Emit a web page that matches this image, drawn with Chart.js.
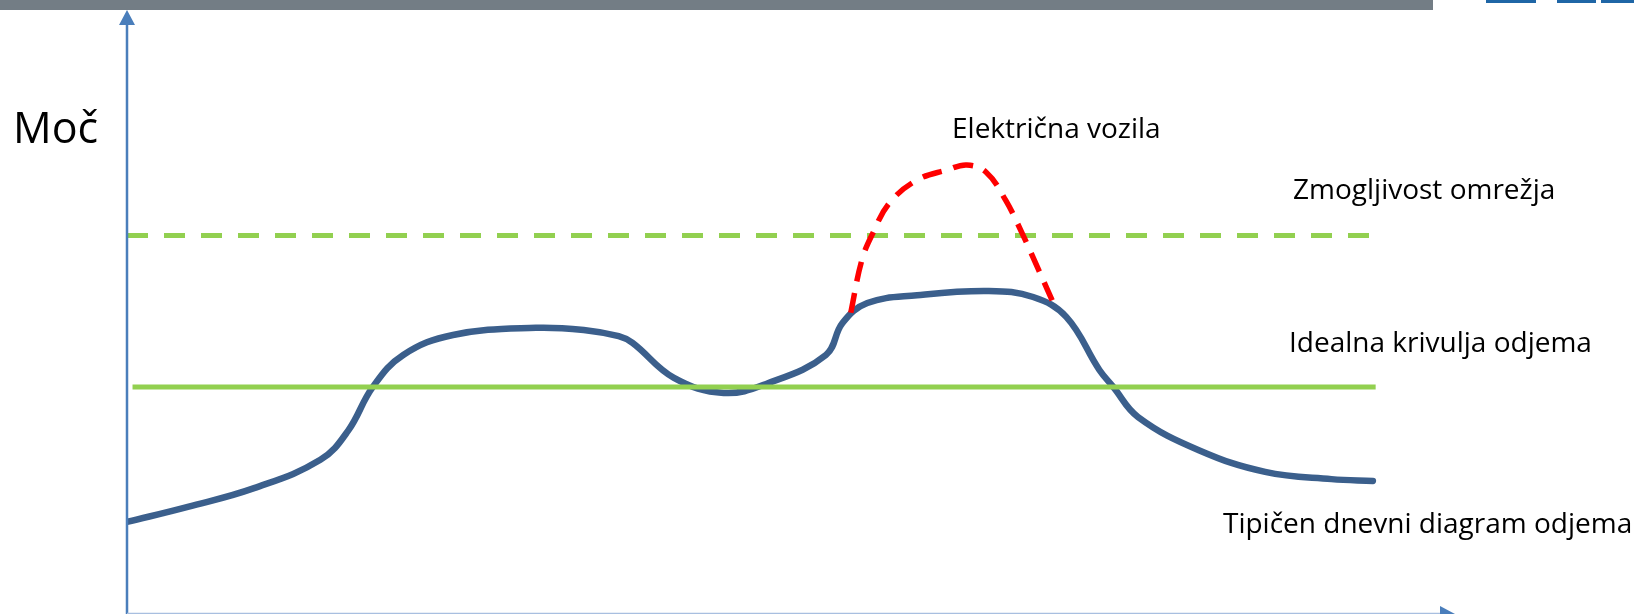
<!DOCTYPE html>
<html lang="sl">
<head>
<meta charset="utf-8">
<title>Dnevni diagram odjema</title>
<script src="https://cdn.jsdelivr.net/npm/chart.js@4/dist/chart.umd.min.js"></script>
<style>
  html, body { margin: 0; padding: 0; background: #fff; }
  #wrap { position: relative; width: 1634px; height: 614px; overflow: hidden; }
  #chOdjem { position: absolute; left: 0; top: 0; }
  .strip { position: absolute; top: 0; }
</style>
</head>
<body>
<div id="wrap">
  <canvas id="chOdjem" width="1634" height="614"></canvas>
  <!-- zgornji trak diapozitiva -->
  <div class="strip" style="left:0;width:1433px;height:10px;background:#737d85;"></div>
  <div class="strip" style="left:1486px;width:50px;height:3px;background:#1f66a6;"></div>
  <div class="strip" style="left:1557px;width:39px;height:3px;background:#1f66a6;"></div>
  <div class="strip" style="left:1601px;width:33px;height:3px;background:#1f66a6;"></div>
</div>
<script>
// ============ podatki (ura dneva, moč v relativnih enotah) ============
// tipičen dnevni diagram odjema
const odjemX = [0, 1.1, 2.3, 3.5, 4.0, 4.45, 5.0, 5.9, 7.4, 8.3, 8.9, 9.15, 9.9, 10.8, 11.6, 12.65, 12.95, 13.4, 14.3, 15.6, 16.4, 17.0, 17.6, 17.85, 18.3, 19.4, 20.6, 21.8, 22.55];
const odjemY = [15.1, 17.6, 20.7, 25.4, 30.2, 37.5, 42.8, 46.1, 47.3, 46.9, 45.9, 44.8, 39.0, 36.5, 38.1, 42.8, 48.1, 51.4, 52.7, 53.4, 52.4, 49.1, 40.3, 37.5, 32.5, 27.0, 23.4, 22.2, 21.9];

// dodatna obremenitev zaradi električnih vozil
const evX = [13.1, 13.3, 13.5, 13.8, 14.3, 14.85, 15.2, 15.55, 15.9, 16.2, 16.5, 16.8];
const evY = [49.8, 58.5, 63.0, 68.0, 71.8, 73.5, 74.3, 73.1, 68.5, 63.0, 56.9, 50.7];

// zmogljivost omrežja in idealna krivulja
const zmogljivostX = [0, 22.55];
const zmogljivostY = [62.6, 62.6];
const idealnaX = [0.1, 22.6];
const idealnaY = [37.5, 37.5];

const pts = (xs, ys) => xs.map((x, i) => ({ x, y: ys[i] }));

const FONT = '"Open Sans", Calibri, sans-serif';
const AXIS = '#4a7ebb';

// oznake ob krivuljah
const labels = [
  { text: 'Moč', x: 13, y: 143, size: 43 },
  { text: 'Električna vozila', x: 952, y: 138, size: 28 },
  { text: 'Zmogljivost omrežja', x: 1293, y: 199, size: 28 },
  { text: 'Idealna krivulja odjema', x: 1289, y: 352, size: 28 },
  { text: 'Tipičen dnevni diagram odjema', x: 1223, y: 533, size: 28 },
];

// osi s puščicami + napisi
const decor = {
  id: 'decor',
  afterDraw(chart) {
    const { ctx, chartArea: a } = chart;
    ctx.save();
    // y os
    ctx.strokeStyle = AXIS;
    ctx.lineWidth = 2.5;
    ctx.beginPath();
    ctx.moveTo(a.left, a.bottom + 2);
    ctx.lineTo(a.left, a.top + 12);
    ctx.stroke();
    ctx.fillStyle = AXIS;
    ctx.beginPath();
    ctx.moveTo(a.left, a.top);
    ctx.lineTo(a.left - 8, a.top + 15);
    ctx.lineTo(a.left + 8, a.top + 15);
    ctx.closePath();
    ctx.fill();
    // x os
    ctx.strokeStyle = '#a8bfe0';
    ctx.lineWidth = 1.5;
    ctx.beginPath();
    ctx.moveTo(a.left, a.bottom + 0.5);
    ctx.lineTo(a.right - 12, a.bottom + 0.5);
    ctx.stroke();
    ctx.fillStyle = AXIS;
    ctx.beginPath();
    ctx.moveTo(a.right + 2, a.bottom + 1);
    ctx.lineTo(a.right - 13, a.bottom - 7);
    ctx.lineTo(a.right - 13, a.bottom + 9);
    ctx.closePath();
    ctx.fill();
    // napisi
    ctx.fillStyle = '#000';
    ctx.textBaseline = 'alphabetic';
    ctx.textAlign = 'left';
    labels.forEach(l => {
      ctx.font = l.size + 'px ' + FONT;
      ctx.fillText(l.text, l.x, l.y);
    });
    ctx.restore();
  }
};

new Chart(document.getElementById('chOdjem'), {
  type: 'line',
  data: {
    datasets: [
      { label: 'Električna vozila', data: pts(evX, evY), borderColor: '#ff0000', borderWidth: 5.5, borderDash: [20, 12], tension: 0.4, order: 1 },
      { label: 'Zmogljivost omrežja', data: pts(zmogljivostX, zmogljivostY), borderColor: '#92d050', borderWidth: 5, borderDash: [21, 16], order: 2 },
      { label: 'Idealna krivulja odjema', data: pts(idealnaX, idealnaY), borderColor: '#92d050', borderWidth: 5, order: 2 },
      { label: 'Tipičen dnevni diagram odjema', data: pts(odjemX, odjemY), borderColor: '#3b5f8c', borderWidth: 6.5, tension: 0.4, borderCapStyle: 'round', order: 3 },
    ]
  },
  options: {
    responsive: false,
    animation: false,
    devicePixelRatio: 1,
    elements: { point: { radius: 0, hoverRadius: 0 }, line: { fill: false } },
    layout: { padding: { left: 127, right: 181, top: 10, bottom: 1 } },
    plugins: { legend: { display: false }, tooltip: { enabled: false } },
    scales: {
      x: { type: 'linear', min: 0, max: 24, display: false },
      y: { min: 0, max: 100, display: false }
    }
  },
  plugins: [decor]
});
</script>
</body>
</html>
